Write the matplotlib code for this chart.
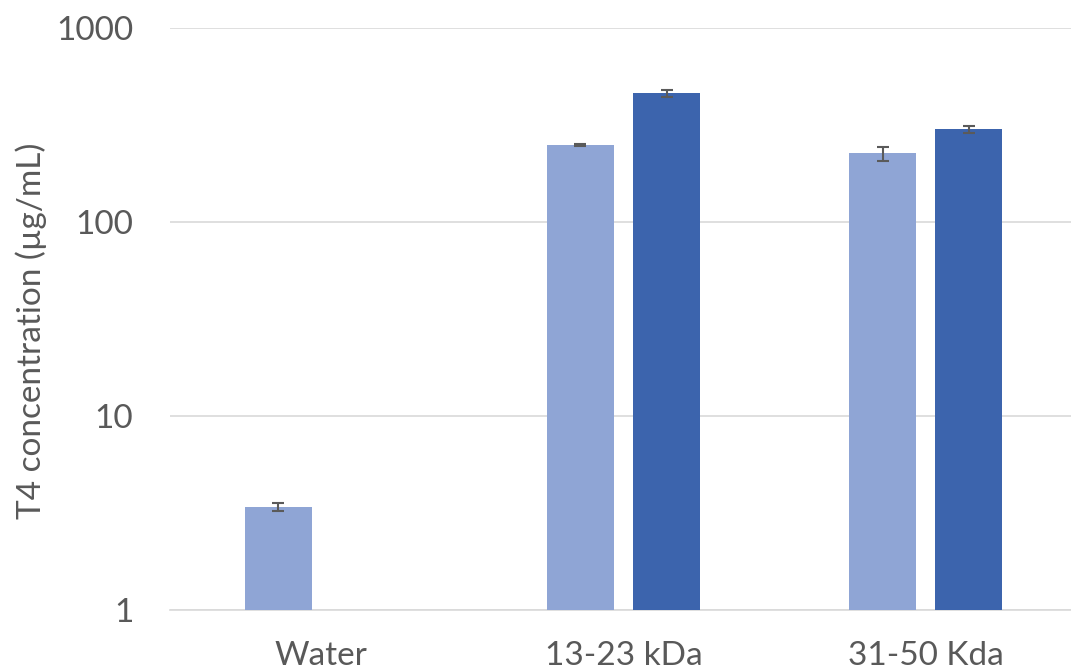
import numpy as np
import matplotlib.pyplot as plt
from matplotlib.ticker import FixedLocator, NullLocator

plt.rcParams['font.family'] = ['Lato', 'DejaVu Sans']

# T4 concentration per sample, two series
categories = ["Water", "13-23 kDa", "31-50 Kda"]
series1 = [3.40, 249, 226]
series1_err = [0.16, 2, 19]
series2 = [np.nan, 461, 300]
series2_err = [0, 20, 13]
ytick_values = [1, 10, 100, 1000]
ytick_labels = ["1", "10", "100", "1000"]

light = "#8FA5D5"
dark = "#3C64AD"
text_col = "#595959"

fig = plt.figure(figsize=(10.71, 6.72), dpi=100)
ax = fig.add_axes([170 / 1071, 62 / 672, 901 / 1071, 582 / 672])

x = np.arange(len(categories))
w = 0.222
off = 0.1424
err_kw = dict(ecolor="#5A5A5A", elinewidth=1.5, capsize=4.5, capthick=1.5)

ax.bar(x - off, series1, w, color=light, yerr=series1_err, error_kw=err_kw, zorder=3)
ax.bar(x[1:] + off, series2[1:], w, color=dark, yerr=series2_err[1:], error_kw=err_kw, zorder=3)

ax.set_yscale("log")
ax.set_ylim(1, 1000)
ax.set_xlim(-0.5, 2.48)
ax.yaxis.set_major_locator(FixedLocator(ytick_values))
ax.yaxis.set_minor_locator(NullLocator())
ax.set_yticklabels(ytick_labels)
ax.set_xticks(x)
ax.set_xticklabels(categories)

ax.grid(axis="y", color="#D9D9D9", linewidth=1.2, zorder=0)
for s in ["top", "right", "left"]:
    ax.spines[s].set_visible(False)
ax.spines["bottom"].set_color("#D9D9D9")
ax.spines["bottom"].set_linewidth(1.2)
ax.tick_params(axis="both", length=0, labelsize=24, labelcolor=text_col)
ax.tick_params(axis="y", pad=26.5)
ax.tick_params(axis="x", pad=22)

ax.set_ylabel("T4 concentration (µg/mL)", fontsize=24, color=text_col)
ax.yaxis.set_label_coords(-0.1365, 0.48)

fig.savefig("out.png", dpi=100)
